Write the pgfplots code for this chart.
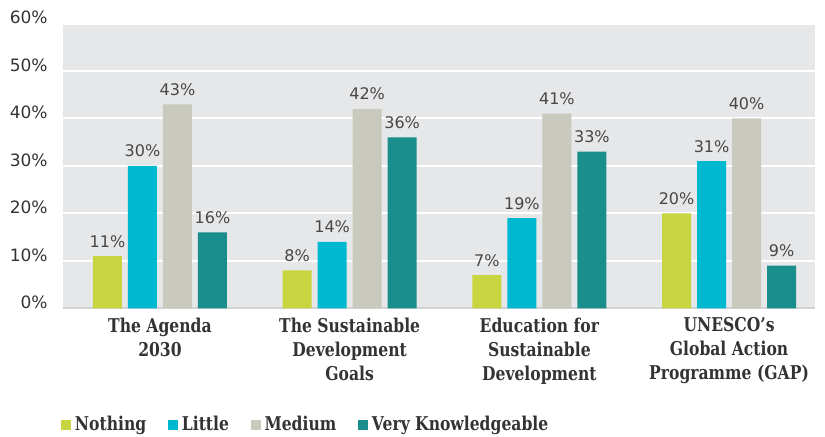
\documentclass[border=0pt]{standalone}
\usepackage{fontspec}
\setmainfont{DejaVu Sans}
\newfontfamily\slab{DejaVu Serif}[FakeStretch=0.82]
\usepackage{pgfplots}
\pgfplotsset{compat=1.18}

\definecolor{bggray}{HTML}{E6E7E9}
\definecolor{linegray}{HTML}{D2D3D5}
\definecolor{txtgray}{HTML}{333333}
\definecolor{cnothing}{HTML}{C8D440}
\definecolor{clittle}{HTML}{00B8D0}
\definecolor{cmedium}{HTML}{C9CABD}
\definecolor{cvery}{HTML}{1A8E8C}

\begin{document}
\begin{tikzpicture}
\path[use as bounding box] (-31.5pt,-64.25pt) rectangle (381pt,154.25pt);
\begin{axis}[
    scale only axis,
    width=376pt, height=142.5pt,
    ybar, bar width=14.5pt,
    xmin=-0.511, xmax=3.453,
    ymin=0, ymax=60,
    xtick={0,1,2,3},
    xticklabels={{The Agenda\\2030},{The Sustainable\\Development\\Goals},{Education for\\Sustainable\\Development},{UNESCO’s\\Global Action\\Programme (GAP)}},
    ytick={0,10,20,30,40,50,60},
    yticklabels={0\%,10\%,20\%,30\%,40\%,50\%,60\%},
    major tick length=0pt,
    axis x line*=bottom, axis y line*=left,
    x axis line style={-, draw=linegray, line width=1pt},
    y axis line style={draw=none},
    axis background/.style={fill=bggray},
    ymajorgrids, grid style={white, line width=1pt},
    yticklabel style={font=\fontsize{8.5}{10}\selectfont, text=txtgray, anchor=east, inner sep=0pt, xshift=-7.5pt, yshift=3pt},
    xticklabel style={font=\slab\bfseries\fontsize{9.5}{12}\selectfont, text=txtgray, align=center, anchor=north, inner sep=0pt, yshift=-4.5pt},
    /pgf/number format/assume math mode=true,
    nodes near coords={\pgfmathprintnumber{\pgfplotspointmeta}\%},
    every node near coord/.append style={font=\fontsize{8}{10}\selectfont, text=txtgray!90, anchor=base, inner sep=0pt, yshift=4.5pt},
    clip=false,
    legend columns=-1,
    legend style={at={(0,0)}, anchor=west, xshift=-1pt, yshift=-58pt, draw=none, fill=none, inner sep=0pt,
        font=\slab\bfseries\fontsize{9.5}{12}\selectfont, text=txtgray,
        /tikz/every even column/.append style={column sep=9pt}},
    legend image code/.code={\fill[#1] (0pt,-2.6pt) rectangle (4.8pt,2.2pt);},
]
\addplot[fill=cnothing, draw=none, bar shift=-26.25pt] coordinates {(0,11) (1,8) (2,7) (3,20)};
\addplot[fill=clittle, draw=none, bar shift=-8.75pt] coordinates {(0,30) (1,14) (2,19) (3,31)};
\addplot[fill=cmedium, draw=none, bar shift=8.75pt] coordinates {(0,43) (1,42) (2,41) (3,40)};
\addplot[fill=cvery, draw=none, bar shift=26.25pt] coordinates {(0,16) (1,36) (2,33) (3,9)};
\legend{Nothing, Little, Medium, Very Knowledgeable}
\end{axis}
\end{tikzpicture}
\end{document}
